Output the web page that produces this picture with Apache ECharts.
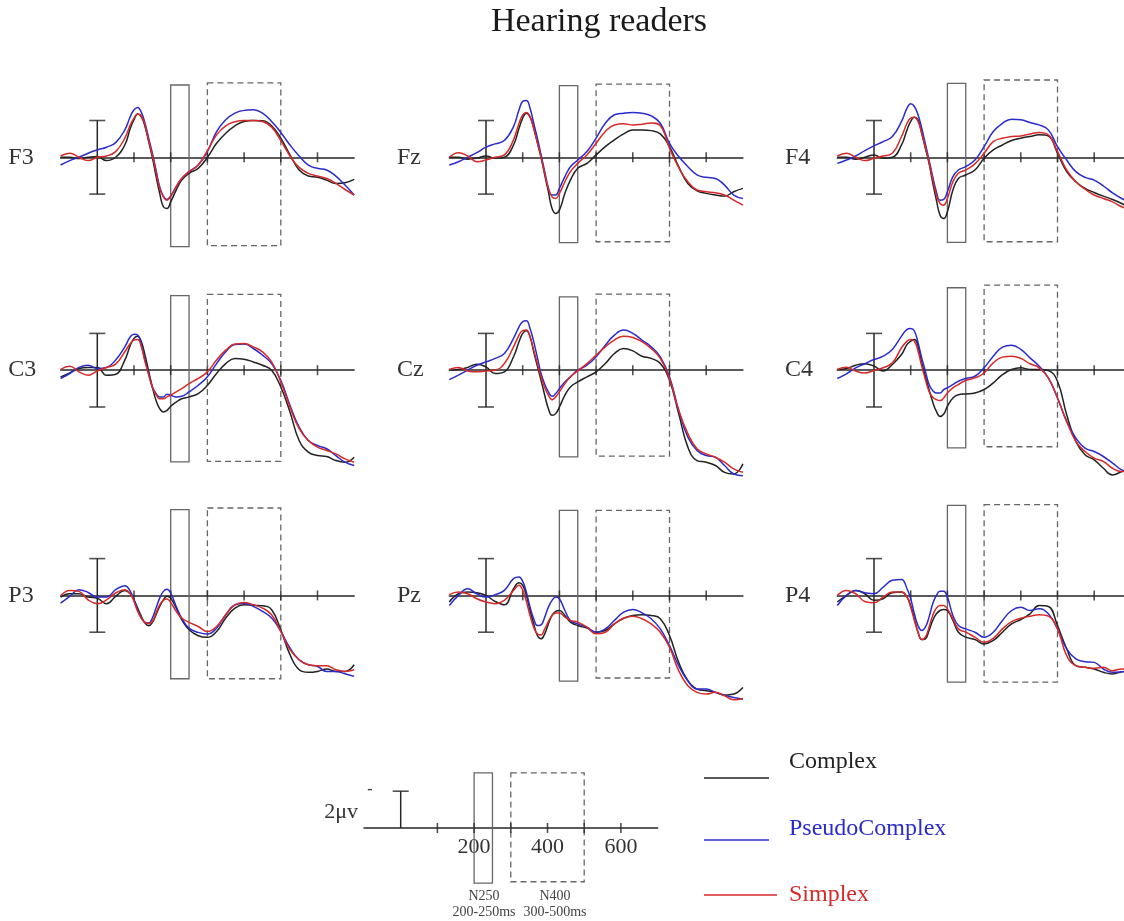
<!DOCTYPE html>
<html>
<head>
<meta charset="utf-8">
<script src="https://cdn.jsdelivr.net/npm/echarts@6/dist/echarts.min.js"></script>
<style>
  html, body { margin: 0; padding: 0; background: #ffffff; }
  #chart { width: 1124px; height: 921px; }
</style>
</head>
<body>
<div id="chart"></div>
<script>
// Sample times (ms) shared by every waveform
const times = [-100,-75,-50,-25,0,25,50,75,90,100,110,120,130,140,150,160,170,180,190,200,215,230,250,275,300,325,350,375,400,425,450,475,500,525,550,575,600,625,650,675,700];

// Grand-average amplitudes (µV) per electrode and condition
const f3Complex = [0,0,0.07,0,-0.04,0.18,0,-0.67,-1.58,-2.04,-2.35,-2.2,-1.67,-0.85,0,1.02,1.96,2.69,2.78,2.42,1.78,1.24,0.87,0.6,0,-0.76,-1.31,-1.71,-1.95,-2.0,-1.98,-1.71,-1.04,-0.13,0.69,1.02,1.09,1.24,1.42,1.38,1.2];
const f3Pseudo  = [0.42,0.18,0,-0.22,-0.4,-0.55,-0.8,-1.49,-2.22,-2.58,-2.71,-2.44,-1.85,-1.04,-0.22,0.69,1.6,2.11,2.29,2.11,1.6,1.15,0.78,0.42,-0.31,-1.4,-2.04,-2.4,-2.55,-2.58,-2.4,-1.95,-1.35,-0.67,-0.07,0.42,0.6,0.69,1.02,1.51,2.05];
const f3Simplex = [-0.07,-0.22,0,0.18,0,-0.07,-0.31,-1.04,-1.76,-2.13,-2.35,-2.25,-1.76,-0.91,-0.13,0.78,1.69,2.15,2.33,2.11,1.6,1.15,0.78,0.42,-0.36,-1.22,-1.71,-1.93,-2.0,-2.0,-1.95,-1.64,-0.91,-0.07,0.55,0.87,1.02,1.15,1.42,1.75,2.05];

const fzComplex = [0,0,0.1,0.05,-0.07,0.05,0,-0.67,-1.58,-2.13,-2.4,-2.2,-1.58,-0.8,0,0.96,1.87,2.78,3.05,2.87,1.96,1.24,0.6,0.33,-0.13,-0.58,-0.95,-1.27,-1.49,-1.49,-1.45,-1.27,-0.58,0.51,1.42,1.82,1.96,2.05,2.11,1.87,1.69];
const fzPseudo  = [0.42,0.24,0,-0.25,-0.55,-0.73,-0.91,-1.67,-2.58,-3.04,-3.09,-2.67,-1.85,-1.04,-0.13,0.78,1.67,2.05,2.05,1.69,1.05,0.51,0.15,-0.31,-1.04,-1.85,-2.31,-2.4,-2.44,-2.4,-2.25,-1.85,-0.76,-0.04,0.51,0.96,1.09,1.15,1.51,2.05,2.24];
const fzSimplex = [0,-0.25,-0.07,0.24,0.15,0,-0.13,-0.95,-1.85,-2.31,-2.44,-2.2,-1.58,-0.8,0,0.87,1.69,2.15,2.24,1.96,1.33,0.78,0.33,-0.13,-0.76,-1.4,-1.76,-1.82,-1.76,-1.8,-1.87,-1.71,-0.49,0.55,1.33,1.78,1.87,1.93,2.05,2.33,2.6];

const f4Complex = [0,0,0.1,0,-0.13,0.05,0,-0.67,-1.49,-1.95,-2.18,-2.04,-1.31,-0.49,0.33,1.38,2.33,3.15,3.33,2.96,1.78,1.15,0.96,0.69,0.05,-0.4,-0.67,-0.91,-1.04,-1.13,-1.22,-1.16,-0.22,0.78,1.33,1.69,1.91,2.11,2.29,2.51,2.78];
const f4Pseudo  = [0.33,0.15,-0.07,-0.36,-0.62,-0.85,-1.13,-1.95,-2.67,-2.91,-2.76,-2.31,-1.58,-0.73,0.15,1.05,1.87,2.33,2.29,1.87,1.05,0.69,0.51,0.15,-0.58,-1.4,-1.85,-2.07,-2.04,-1.89,-1.76,-1.49,-0.58,0.15,0.78,1.09,1.24,1.56,1.93,2.24,2.47];
const f4Simplex = [-0.07,-0.22,0,0.18,0.05,-0.07,-0.22,-1.13,-1.85,-2.13,-2.18,-1.95,-1.31,-0.55,0.24,1.2,2.05,2.51,2.6,2.24,1.33,0.87,0.69,0.36,-0.22,-0.85,-1.04,-1.13,-1.16,-1.27,-1.35,-1.22,-0.31,0.69,1.33,1.73,2.05,2.24,2.42,2.69,2.87];

const c3Complex = [0.36,0.15,-0.09,-0.15,-0.15,0.27,0.22,-0.55,-1.36,-1.73,-1.85,-1.55,-0.82,0.05,0.91,1.64,2.09,2.27,2.18,1.96,1.73,1.55,1.45,1.27,0.82,0.18,-0.36,-0.64,-0.6,-0.45,-0.27,0,0.91,2.27,3.82,4.45,4.64,4.69,4.91,5.0,4.73];
const c3Pseudo  = [0.45,0.18,-0.15,-0.27,-0.09,-0.15,-0.55,-1.27,-1.82,-1.95,-1.91,-1.36,-0.55,0.2,0.91,1.27,1.45,1.45,1.31,1.36,1.45,1.42,1.18,0.82,0.36,-0.36,-1.0,-1.4,-1.42,-1.18,-0.82,-0.36,0.55,1.91,3.09,3.82,4.09,4.27,4.64,5.0,5.18];
const c3Simplex = [-0.04,-0.22,0.09,0.27,0.04,-0.15,-0.33,-1.0,-1.45,-1.64,-1.67,-1.27,-0.45,0.25,0.91,1.31,1.55,1.55,1.45,1.36,1.18,1.0,0.73,0.45,0.09,-0.55,-1.09,-1.42,-1.45,-1.27,-1.0,-0.45,0.64,2.0,3.18,3.82,4.18,4.36,4.55,4.82,5.0];

const czComplex = [0,-0.04,-0.15,-0.33,-0.18,0.18,0.09,-0.73,-1.55,-2.0,-2.15,-1.82,-1.0,-0.22,0.55,1.36,2.09,2.45,2.36,2.0,1.36,0.91,0.64,0.36,0.09,-0.36,-0.91,-1.18,-1.05,-0.76,-0.64,-0.36,0.55,2.36,4.18,4.91,5.0,5.18,5.55,5.64,5.09];
const czPseudo  = [0.51,0.27,0,-0.27,-0.45,-0.64,-0.91,-1.73,-2.36,-2.64,-2.69,-2.27,-1.55,-0.69,0.18,0.76,1.18,1.42,1.27,1.0,0.64,0.36,0,-0.27,-0.73,-1.36,-1.91,-2.18,-2.0,-1.64,-1.27,-0.73,0.36,2.18,3.64,4.36,4.64,4.73,5.18,5.64,5.73];
const czSimplex = [-0.04,-0.15,0.04,0.09,0.04,0,-0.36,-1.27,-1.91,-2.15,-2.18,-1.82,-1.09,-0.36,0.36,0.95,1.36,1.6,1.45,1.18,0.73,0.36,0.04,-0.36,-0.82,-1.27,-1.64,-1.85,-1.78,-1.55,-1.18,-0.64,0.45,2.18,3.45,4.27,4.55,4.73,5.0,5.36,5.55];

const c4Complex = [-0.04,-0.09,-0.27,-0.35,-0.22,0.05,-0.31,-0.85,-1.4,-1.58,-1.67,-1.31,-0.4,0.33,1.05,1.73,2.24,2.51,2.38,1.96,1.51,1.33,1.29,1.24,1.05,0.69,0.24,-0.04,-0.13,-0.04,-0.04,0.02,0.6,2.42,3.87,4.6,4.87,5.33,5.69,5.51,5.33];
const c4Pseudo  = [0.45,0.2,-0.13,-0.35,-0.58,-0.76,-1.13,-1.85,-2.22,-2.27,-2.13,-1.49,-0.67,0.05,0.78,1.11,1.24,1.24,1.05,0.96,0.78,0.6,0.45,0.33,-0.13,-0.76,-1.25,-1.36,-1.13,-0.67,-0.22,0.42,1.51,2.78,3.69,4.24,4.42,4.69,5.05,5.42,5.6];
const c4Simplex = [-0.04,-0.16,0.05,0.15,0.02,-0.13,-0.4,-1.22,-1.58,-1.67,-1.58,-1.04,-0.22,0.51,1.15,1.47,1.6,1.65,1.51,1.24,0.96,0.78,0.56,0.42,0.15,-0.4,-0.71,-0.76,-0.64,-0.35,-0.13,0.42,1.51,2.78,3.87,4.42,4.78,4.96,5.33,5.51,5.51];

const p3Complex = [0.09,-0.09,-0.09,0.09,0.15,0.45,0.05,-0.27,-0.09,0.24,0.69,1.14,1.5,1.65,1.47,1.05,0.6,0.24,0.05,0.15,0.69,1.32,1.87,2.19,2.28,1.96,1.23,0.69,0.51,0.54,0.56,0.78,1.87,3.22,4.04,4.18,4.13,4.0,4.13,4.13,3.77];
const p3Pseudo  = [0.42,0.05,-0.31,-0.16,0.09,0.09,-0.31,-0.53,-0.22,0.24,0.78,1.23,1.47,1.5,1.23,0.69,0.15,-0.22,-0.34,-0.13,0.6,1.23,1.78,2.01,2.1,1.78,1.05,0.51,0.42,0.6,0.87,1.23,1.96,2.86,3.5,3.77,3.86,4.13,4.13,4.26,4.4];
const p3Simplex = [0.02,-0.27,-0.22,0.24,0.45,0.24,-0.13,-0.31,-0.09,0.33,0.87,1.23,1.47,1.54,1.41,0.96,0.51,0.27,0.2,0.38,0.87,1.23,1.47,1.69,1.96,1.69,1.05,0.51,0.38,0.51,0.69,1.05,1.96,2.95,3.5,3.77,3.83,3.83,4.04,4.13,4.04];

const pzComplex = [0.36,-0.09,-0.18,-0.15,0,0.33,0.51,-0.36,-0.69,-0.55,0,0.82,1.55,2.18,2.36,2.09,1.55,1.09,0.87,0.82,1.09,1.45,1.64,1.78,2.0,1.91,1.55,1.24,1.09,1.05,1.09,1.27,2.18,3.64,4.64,5.09,5.18,5.27,5.42,5.36,5.0];
const pzPseudo  = [0.55,0,-0.36,-0.09,0.09,-0.04,-0.27,-0.91,-1.0,-0.76,-0.18,0.64,1.27,1.64,1.6,1.18,0.64,0.27,0.09,0.18,0.82,1.36,1.55,1.73,2.0,1.82,1.36,0.91,0.76,0.95,1.27,1.82,2.73,3.82,4.64,5.09,5.09,5.27,5.42,5.55,5.64];
const pzSimplex = [-0.04,-0.18,-0.09,0.18,0.36,0.45,0.27,-0.27,-0.55,-0.27,0.33,1.09,1.73,2.09,2.15,1.82,1.42,1.09,0.95,0.95,1.18,1.36,1.45,1.73,2.09,2.0,1.55,1.24,1.13,1.27,1.55,2.0,2.82,4.09,4.91,5.27,5.36,5.27,5.45,5.67,5.6];

const p4Complex = [0.36,0,-0.27,-0.09,0.27,0.18,-0.15,-0.18,0.09,0.55,1.27,2.0,2.4,2.36,1.91,1.36,1.0,0.82,0.76,0.82,1.36,2.0,2.27,2.4,2.64,2.45,2.0,1.55,1.31,1.0,0.55,0.6,1.64,2.9,3.82,3.91,4.0,4.18,4.27,4.15,4.09];
const p4Pseudo  = [0.55,0,-0.27,-0.15,-0.09,-0.45,-0.82,-0.87,-0.36,0.18,1.0,1.64,1.91,1.73,1.18,0.45,0,-0.22,-0.22,0.09,1.09,1.64,1.82,2.0,2.27,2.0,1.36,0.82,0.64,0.82,0.73,1.0,1.82,2.91,3.45,3.6,3.64,4.0,4.18,4.15,4.09];
const p4Simplex = [0,-0.27,-0.09,0.33,0.4,0.09,-0.18,-0.18,0.09,0.64,1.36,2.0,2.4,2.27,1.73,1.09,0.69,0.55,0.55,0.73,1.27,1.82,2.0,2.27,2.55,2.33,1.82,1.42,1.24,1.13,1.05,1.13,1.82,3.27,3.82,3.91,3.96,3.91,4.09,4.0,4.0];

// Electrodes, conditions and analysis windows
const channels = ['F3', 'Fz', 'F4', 'C3', 'Cz', 'C4', 'P3', 'Pz', 'P4'];
const conditions = ['Complex', 'PseudoComplex', 'Simplex'];
const tickTimes = [100, 200, 300, 400, 500, 600];
const scaleLabels = [200, 400, 600];
const n250Window = [200, 250];
const n400Window = [300, 500];
const errorBarUv = 2;
// vertical extent (µV) of the N250 and N400 window frames in each panel
const n250Span = [[-3.93, 4.86], [-3.89, 4.64], [-4.02, 4.62], [-4.05, 4.98], [-3.99, 4.71], [-4.48, 4.22], [-4.66, 4.53], [-4.62, 4.66], [-4.89, 4.71]];
const n400Span = [[-4.05, 4.80], [-3.98, 4.59], [-4.2, 4.59], [-4.12, 4.95], [-4.13, 4.67], [-4.62, 4.16], [-4.75, 4.53], [-4.62, 4.49], [-4.93, 4.71]];

const waves = [
  [f3Complex, f3Pseudo, f3Simplex], [fzComplex, fzPseudo, fzSimplex], [f4Complex, f4Pseudo, f4Simplex],
  [c3Complex, c3Pseudo, c3Simplex], [czComplex, czPseudo, czSimplex], [c4Complex, c4Pseudo, c4Simplex],
  [p3Complex, p3Pseudo, p3Simplex], [pzComplex, pzPseudo, pzSimplex], [p4Complex, p4Pseudo, p4Simplex]
];

// Layout
const pxPerMs = 0.367;
const pxPerUv = 18.4;
const colOrigin = [97.3, 486, 874];
const rowZero = [157.3, 370.2, 595.4];
const SERIF = '"Liberation Serif", "DejaVu Serif", serif';
const axisColor = '#262626';
const frameColor = '#666666';
const condColors = ['#222222', '#2b2bcc', '#d62a2a'];

const grids = [], xAxes = [], yAxes = [], series = [], graphics = [];

function addPanel(idx, originX, zeroY, yMin, yMax, showLabels) {
  grids.push({
    left: originX - 100 * pxPerMs,
    top: zeroY + yMin * pxPerUv,
    width: 800 * pxPerMs,
    height: (yMax - yMin) * pxPerUv,
    containLabel: false,
    outerBoundsMode: 'none'
  });
  const xAxis = {
    type: 'value', gridIndex: idx, min: -100, max: 700, interval: 100,
    axisLine: { onZero: true, lineStyle: { color: axisColor, width: 1.5 } },
    axisTick: { show: false },
    splitLine: { show: false },
    axisLabel: { show: false }
  };
  if (showLabels) {
    // time axis with labels, lifted from the grid bottom to the zero line
    xAxis.position = 'bottom';
    xAxis.offset = -yMax * pxPerUv;
    xAxis.axisLine = { onZero: false, lineStyle: { color: axisColor, width: 1.5 } };
    xAxis.axisLabel = {
      show: true, margin: 8, color: '#333', fontFamily: SERIF, fontSize: 22,
      showMinLabel: true, showMaxLabel: true,
      formatter: v => (scaleLabels.includes(v) ? String(v) : '')
    };
  }
  xAxes.push(xAxis);
  yAxes.push({
    type: 'value', gridIndex: idx, min: yMin, max: yMax, inverse: true,
    axisLine: { show: false }, axisTick: { show: false }, axisLabel: { show: false }, splitLine: { show: false }
  });
}

function frame(win, span, dashed) {
  return [
    { coord: [win[0], span[0]], itemStyle: { color: 'rgba(0,0,0,0)', borderColor: frameColor, borderWidth: 1.3, borderType: dashed ? [6, 4] : 'solid' } },
    { coord: [win[1], span[1]] }
  ];
}

function addScaffold(idx, frames, barFrom) {
  // 100 ms ticks crossing the time axis, plus the analysis window frames
  series.push({
    type: 'scatter', xAxisIndex: idx, yAxisIndex: idx, silent: true, z: 2,
    symbol: 'rect', symbolSize: [1.6, 10],
    itemStyle: { color: axisColor },
    data: tickTimes.map(t => [t, 0]),
    markArea: { silent: true, label: { show: false }, data: frames }
  });
  // amplitude calibration bar at stimulus onset (negative is plotted up)
  series.push({
    type: 'line', xAxisIndex: idx, yAxisIndex: idx, silent: true, z: 2,
    symbol: 'none', lineStyle: { color: axisColor, width: 1.5 },
    data: [[0, -errorBarUv], [0, barFrom]]
  });
  const caps = barFrom === 0 ? [[0, -errorBarUv]] : [[0, -errorBarUv], [0, errorBarUv]];
  series.push({
    type: 'scatter', xAxisIndex: idx, yAxisIndex: idx, silent: true, z: 2,
    symbol: 'rect', symbolSize: [16, 1.6], itemStyle: { color: axisColor },
    data: caps
  });
}

channels.forEach((ch, i) => {
  const r = Math.floor(i / 3), c = i % 3;
  addPanel(i, colOrigin[c], rowZero[r], -5, 6, false);
  addScaffold(i, [frame(n250Window, n250Span[i], false), frame(n400Window, n400Span[i], true)], errorBarUv);
  waves[i].forEach((vals, k) => {
    series.push({
      name: conditions[k], type: 'line', xAxisIndex: i, yAxisIndex: i,
      data: times.map((t, j) => [t, vals[j]]),
      smooth: 0.45, symbol: 'none', z: 4 + k,
      lineStyle: { color: condColors[k], width: 1.5 }
    });
  });
  graphics.push({
    type: 'text', x: colOrigin[c] - 89, y: rowZero[r],
    style: { text: ch, font: '24px ' + SERIF, fill: '#333', textAlign: 'left', textVerticalAlign: 'middle' }
  });
});

// Calibration panel with time scale and window key
const scaleIdx = channels.length;
addPanel(scaleIdx, 400.7, 828, -4, 4, true);
addScaffold(scaleIdx, [frame(n250Window, [-3, 3], false), frame(n400Window, [-3, 2.92], true)], 0);

graphics.push(
  { type: 'text', x: 599, y: 22, style: { text: 'Hearing readers', font: '34px ' + SERIF, fill: '#1a1a1a', textAlign: 'center', textVerticalAlign: 'middle' } },
  { type: 'text', x: 358, y: 812, style: { text: '2\u03bcv', font: '22px ' + SERIF, fill: '#333', textAlign: 'right', textVerticalAlign: 'middle' } },
  { type: 'text', x: 370, y: 790, style: { text: '-', font: '16px ' + SERIF, fill: '#333', textAlign: 'center', textVerticalAlign: 'middle' } },
  { type: 'text', x: 484, y: 896, style: { text: 'N250', font: '14px ' + SERIF, fill: '#444', textAlign: 'center', textVerticalAlign: 'middle' } },
  { type: 'text', x: 484, y: 912, style: { text: '200-250ms', font: '14px ' + SERIF, fill: '#444', textAlign: 'center', textVerticalAlign: 'middle' } },
  { type: 'text', x: 555, y: 896, style: { text: 'N400', font: '14px ' + SERIF, fill: '#444', textAlign: 'center', textVerticalAlign: 'middle' } },
  { type: 'text', x: 555, y: 912, style: { text: '300-500ms', font: '14px ' + SERIF, fill: '#444', textAlign: 'center', textVerticalAlign: 'middle' } }
);

// Condition key
const keyRows = [
  { lineY: 778, textY: 762, x2: 769 },
  { lineY: 840, textY: 829, x2: 769 },
  { lineY: 895, textY: 895, x2: 777 }
];
conditions.forEach((name, k) => {
  const row = keyRows[k];
  graphics.push(
    { type: 'line', shape: { x1: 704, y1: row.lineY, x2: row.x2, y2: row.lineY }, style: { stroke: condColors[k], lineWidth: 1.5 } },
    { type: 'text', x: 789, y: row.textY, style: { text: name, font: '24px ' + SERIF, fill: condColors[k], textAlign: 'left', textVerticalAlign: 'middle' } }
  );
});

const chart = echarts.init(document.getElementById('chart'), null, { renderer: 'canvas' });
chart.setOption({
  backgroundColor: '#ffffff',
  animation: false,
  grid: grids,
  xAxis: xAxes,
  yAxis: yAxes,
  series: series,
  graphic: graphics
});
</script>
</body>
</html>
